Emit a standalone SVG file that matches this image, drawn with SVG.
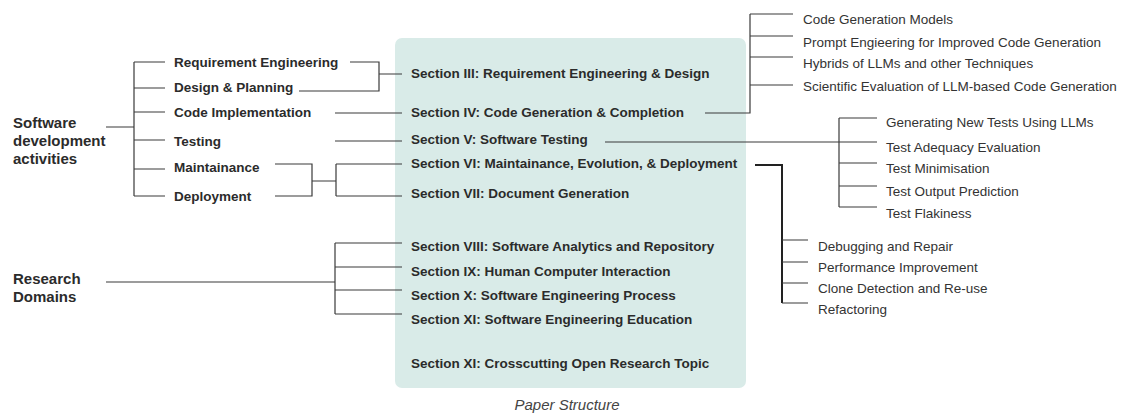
<svg xmlns="http://www.w3.org/2000/svg" width="1125" height="414" viewBox="0 0 1125 414">
<style>
text{font-family:"Liberation Sans",Arial,sans-serif;fill:#2b2b2b}
.h{font-size:15px;font-weight:bold}
.a{font-size:13.5px;font-weight:bold}
.s{font-size:13.5px;font-weight:bold}
.r{font-size:13.5px;fill:#333}
.cap{font-size:15px;font-style:italic;fill:#444}
.ln{fill:none;stroke:#3a3a3a;stroke-width:1.2}
.thk{fill:none;stroke:#222;stroke-width:2}
</style>
<rect x="395" y="38" width="351" height="350" rx="7" fill="#d9ebe8"/>
<g id="connectors">
<path class="ln" d="M106 127H134M134 62V196M134 62H165M134 88H165M134 112H165M134 140H165M134 169H165M134 196H165"/>
<path class="ln" d="M350 62H379V91H299M379 74H402"/>
<path class="ln" d="M335 113H402M335 141H402"/>
<path class="ln" d="M275 164H312V196H275M312 181H336M336 164V196M336 164H402M336 196H402"/>
<path class="ln" d="M106 282H335M335 243V314M335 243H402M335 267H402M335 290H402M335 314H402"/>
<path class="ln" d="M705 113H750V14M750 14H793M750 36H793M750 57H793M750 85H793"/>
<path class="ln" d="M605 142H877M839 118V207M839 118H877M839 163H877M839 186H877M839 207H877"/>
<path class="thk" d="M755 165H782V303"/>
<path class="ln" d="M782 240H808M782 262H808M782 283H808M782 303H808"/>
</g>
<g id="software-dev"><text class="h" x="13" y="128">Software</text><text class="h" x="13" y="146">development</text><text class="h" x="13" y="164">activities</text></g>
<g id="research"><text class="h" x="13" y="284">Research</text><text class="h" x="13" y="302">Domains</text></g>
<g id="req"><text class="a" x="174" y="67">Requirement Engineering</text></g>
<g id="design"><text class="a" x="174" y="92">Design &amp; Planning</text></g>
<g id="code"><text class="a" x="174" y="117">Code Implementation</text></g>
<g id="testing"><text class="a" x="174" y="146">Testing</text></g>
<g id="maint"><text class="a" x="174" y="172">Maintainance</text></g>
<g id="deploy"><text class="a" x="174" y="201">Deployment</text></g>
<g id="s3"><text class="s" x="411" y="78">Section III: Requirement Engineering &amp; Design</text></g>
<g id="s4"><text class="s" x="411" y="117">Section IV: Code Generation &amp; Completion</text></g>
<g id="s5"><text class="s" x="411" y="144">Section V: Software Testing</text></g>
<g id="s6"><text class="s" x="411" y="168">Section VI: Maintainance, Evolution, &amp; Deployment</text></g>
<g id="s7"><text class="s" x="411" y="198">Section VII: Document Generation</text></g>
<g id="s8"><text class="s" x="411" y="251">Section VIII: Software Analytics and Repository</text></g>
<g id="s9"><text class="s" x="411" y="276">Section IX: Human Computer Interaction</text></g>
<g id="s10"><text class="s" x="411" y="300">Section X: Software Engineering Process</text></g>
<g id="s11"><text class="s" x="411" y="324">Section XI: Software Engineering Education</text></g>
<g id="s12"><text class="s" x="411" y="368">Section XI: Crosscutting Open Research Topic</text></g>
<g id="cg1"><text class="r" x="803" y="24">Code Generation Models</text></g>
<g id="cg2"><text class="r" x="803" y="47">Prompt Engieering for Improved Code Generation</text></g>
<g id="cg3"><text class="r" x="803" y="68">Hybrids of LLMs and other Techniques</text></g>
<g id="cg4"><text class="r" x="803" y="91">Scientific Evaluation of LLM-based Code Generation</text></g>
<g id="t1"><text class="r" x="886" y="127">Generating New Tests Using LLMs</text></g>
<g id="t2"><text class="r" x="886" y="152">Test Adequacy Evaluation</text></g>
<g id="t3"><text class="r" x="886" y="173">Test Minimisation</text></g>
<g id="t4"><text class="r" x="886" y="196">Test Output Prediction</text></g>
<g id="t5"><text class="r" x="886" y="218">Test Flakiness</text></g>
<g id="m1"><text class="r" x="818" y="251">Debugging and Repair</text></g>
<g id="m2"><text class="r" x="818" y="272">Performance Improvement</text></g>
<g id="m3"><text class="r" x="818" y="293">Clone Detection and Re-use</text></g>
<g id="m4"><text class="r" x="818" y="314">Refactoring</text></g>
<g id="caption"><text class="cap" x="567" y="410" text-anchor="middle">Paper Structure</text></g>
</svg>
